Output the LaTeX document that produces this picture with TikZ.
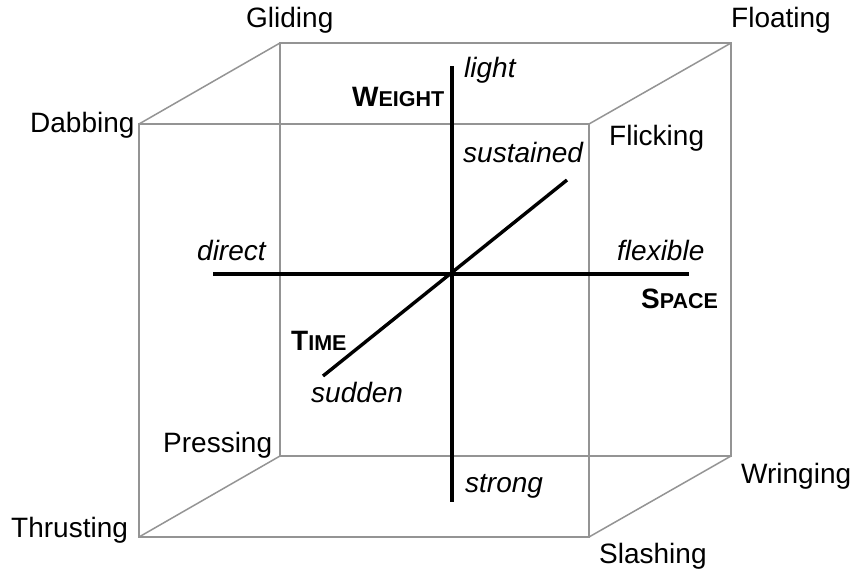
\documentclass[tikz,border=0pt]{standalone}
\usepackage{fontspec}
\setmainfont{Liberation Sans}
\usetikzlibrary{positioning}
\newcommand{\effortcaps}[2]{\textbf{#1\fontsize{21.5}{24}\selectfont #2}}
\tikzset{
  every node/.style={inner sep=0pt, font=\fontsize{28}{33}\selectfont},
  cubeedge/.style={draw=black!42, line width=1.5pt},
  effortaxis/.style={draw=black, line width=3.4pt},
  movelabel/.style={anchor=base west},
  polelabel/.style={anchor=base west, font=\fontsize{28}{33}\selectfont\itshape},
  factorlabel/.style={anchor=base west}
}

\begin{document}
\begin{tikzpicture}[x=1pt, y=-1pt]
    \useasboundingbox (0,0) rectangle (856,571);

    % Cube corners (front face and back face)
    \coordinate (ftl) at (139,124);
    \coordinate (ftr) at (589,124);
    \coordinate (fbl) at (139,537);
    \coordinate (fbr) at (589,537);
    \coordinate (btl) at (280,43);
    \coordinate (btr) at (731,43);
    \coordinate (bbl) at (280,456);
    \coordinate (bbr) at (731,456);

    % Back face
    \draw[cubeedge] (btl) -- (btr) -- (bbr) -- (bbl) -- cycle;
    % Front face
    \draw[cubeedge] (ftl) -- (ftr) -- (fbr) -- (fbl) -- cycle;
    % Depth edges
    \draw[cubeedge] (ftl) -- (btl);
    \draw[cubeedge] (ftr) -- (btr);
    \draw[cubeedge] (fbl) -- (bbl);
    \draw[cubeedge] (fbr) -- (bbr);

    % Axes through the centre
    \coordinate (centre) at (452,274);
    \coordinate (wtop) at (452,66);
    \coordinate (wbot) at (452,502);
    \coordinate (sleft) at (213,274);
    \coordinate (sright) at (689,274);
    \coordinate (tnear) at (323,376);
    \coordinate (tfar) at (567,180);
    \draw[effortaxis] (wtop) -- (wbot);
    \draw[effortaxis] (sleft) -- (sright);
    \draw[effortaxis] (tnear) -- (tfar);

    % Axis names
    \node[factorlabel] (weight) at (352,106) {\effortcaps{W}{EIGHT}};
    \node[factorlabel] (space) at (641,308) {\effortcaps{S}{PACE}};
    \node[factorlabel] (time) at (291,350) {\effortcaps{T}{IME}};

    % Poles
    \node[polelabel] (light) at (464,77) {light};
    \node[polelabel] (strong) at (465,492) {strong};
    \node[polelabel] (direct) at (197,260) {direct};
    \node[polelabel] (flexible) at (617,260) {flexible};
    \node[polelabel] (sustained) at (463,162) {sustained};
    \node[polelabel] (sudden) at (311,402) {sudden};

    % Basic efforts at the corners
    \node[movelabel] (gliding) at (246,27) {Gliding};
    \node[movelabel] (floating) at (731,27) {Floating};
    \node[movelabel] (dabbing) at (30,132) {Dabbing};
    \node[movelabel] (flicking) at (609,145) {Flicking};
    \node[movelabel] (pressing) at (163,452) {Pressing};
    \node[movelabel] (wringing) at (741,483) {Wringing};
    \node[movelabel] (thrusting) at (11,537) {Thrusting};
    \node[movelabel] (slashing) at (599,563) {Slashing};
\end{tikzpicture}
\end{document}
